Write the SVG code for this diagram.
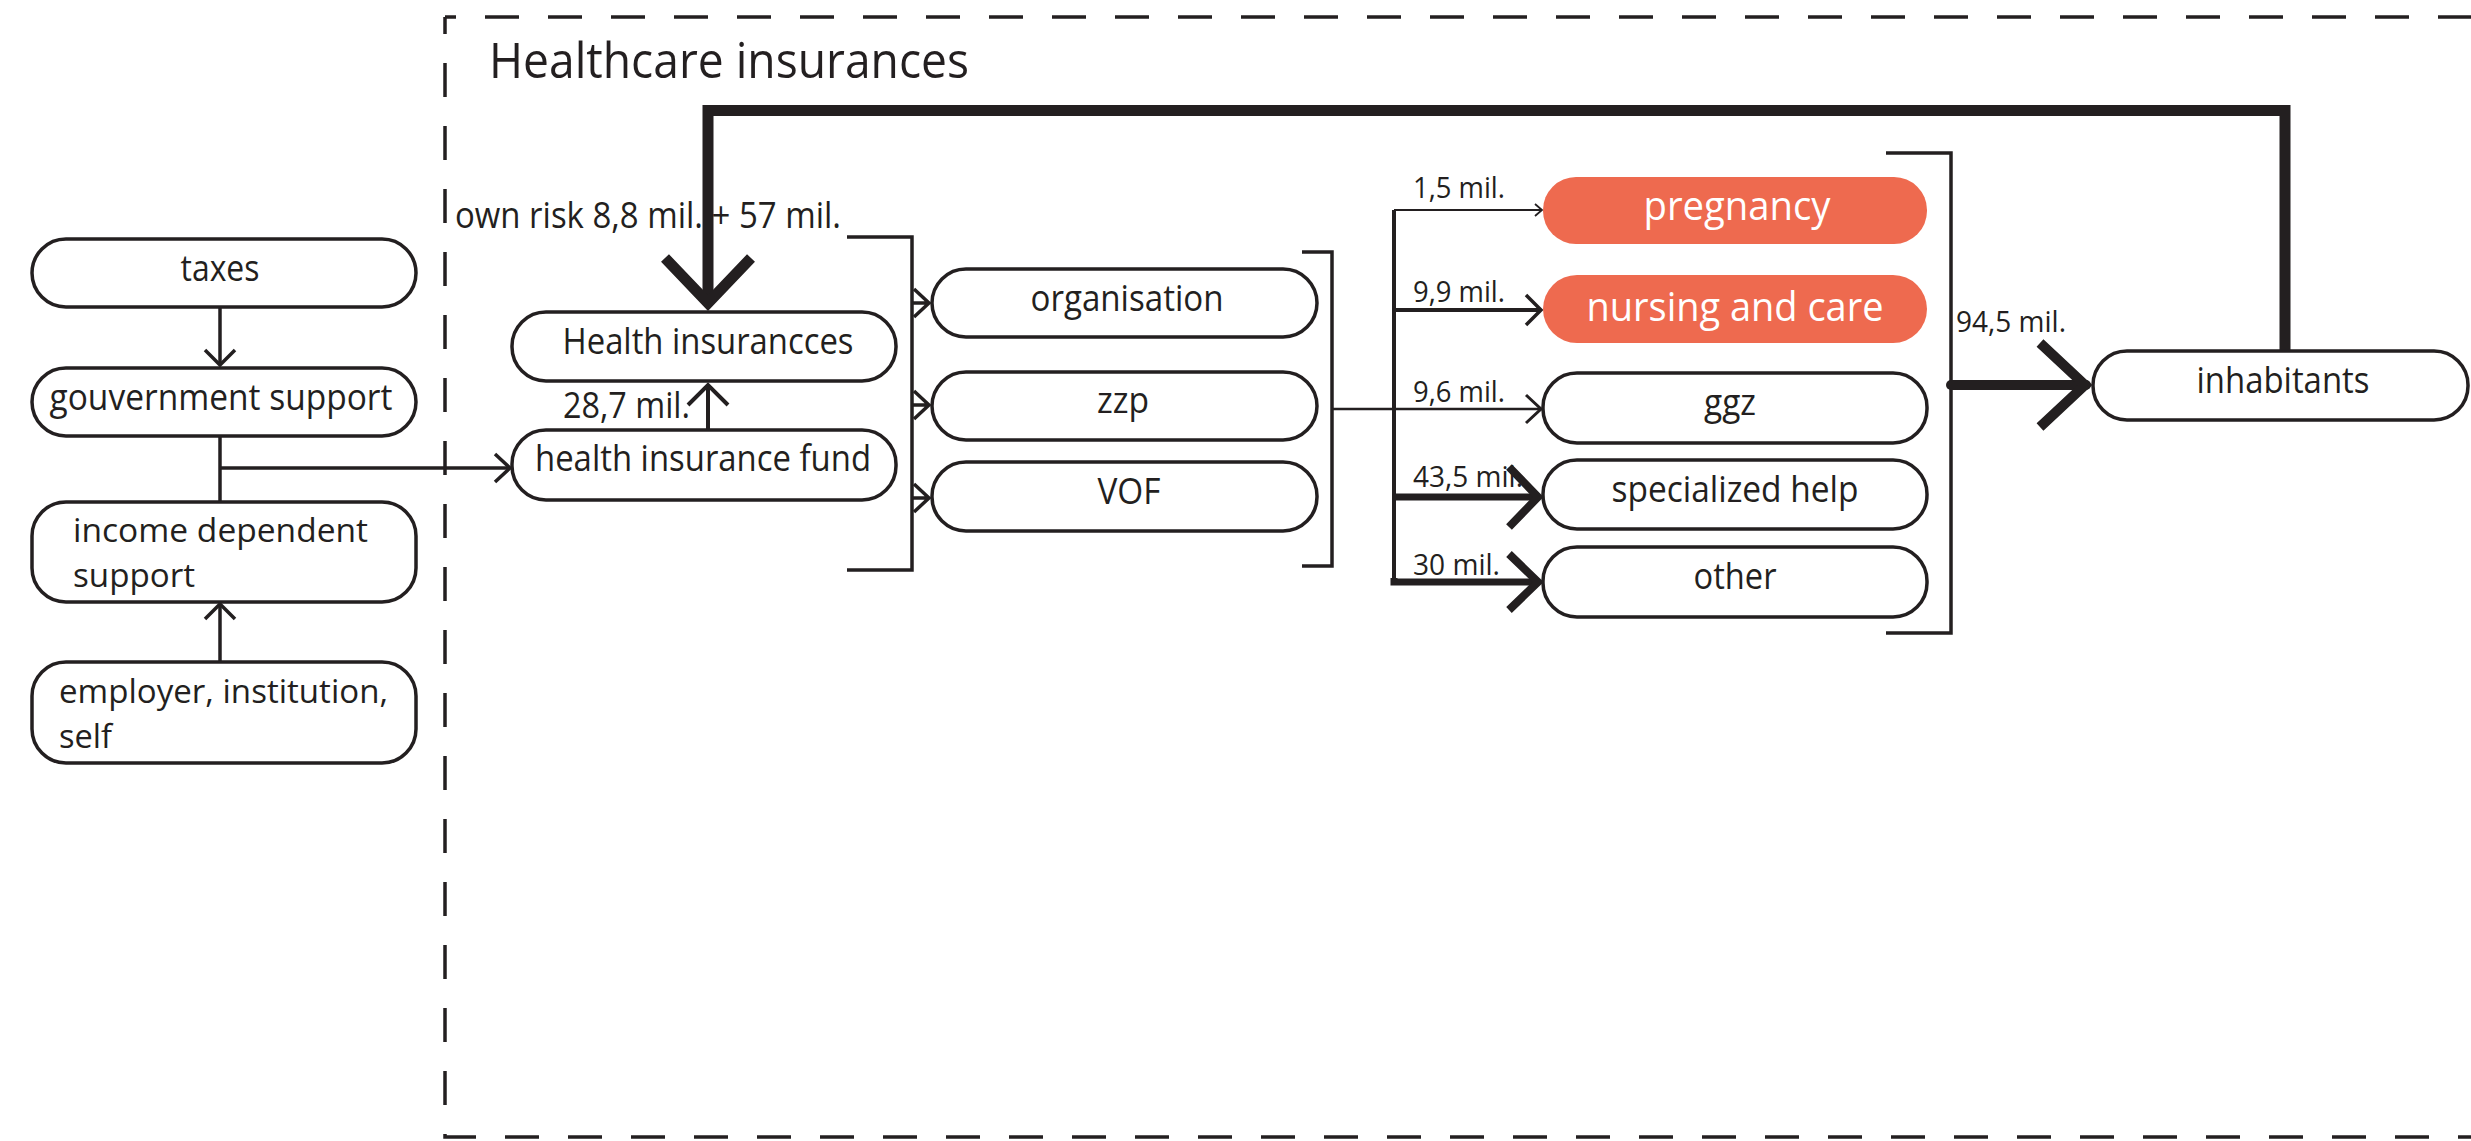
<svg xmlns="http://www.w3.org/2000/svg" width="2471" height="1141" viewBox="0 0 2471 1141">
  <style>
    .box { fill: #ffffff; stroke: #231f20; stroke-width: 3.5; }
    .hot { fill: #ee6a4f; stroke: none; }
    .t { font-family: "Open Sans", "Noto Sans", sans-serif; font-size: 36px; fill: #231f20; }
    .two { font-size: 32px; }
    .c { text-anchor: middle; }
    .w { fill: #ffffff; font-size: 41px; }
    .lbl { font-family: "Open Sans", "Noto Sans", sans-serif; font-size: 30px; fill: #231f20; }
    .ln { fill: none; stroke: #231f20; stroke-linejoin: miter; }
    .dash { fill: none; stroke: #231f20; stroke-width: 3.5; stroke-dasharray: 34 29; }
  </style>

  <!-- dashed frame of the insurance domain -->
  <g id="frame">
    <path class="dash" d="M 445 17 H 2475" stroke-dashoffset="23"/>
    <path class="dash" d="M 445 17 V 1137 H 2475" stroke-dashoffset="17"/>
    <text class="t" x="489" y="78" style="font-size:50px" textLength="480" lengthAdjust="spacingAndGlyphs">Healthcare insurances</text>
  </g>

  <!-- labels drawn beneath the connectors -->
  <g id="labels">
    <text class="t" x="455" y="228" textLength="386" lengthAdjust="spacingAndGlyphs">own risk 8,8 mil. + 57 mil.</text>
    <text class="t" x="563" y="418" textLength="127" lengthAdjust="spacingAndGlyphs">28,7 mil.</text>
    <text class="lbl" x="1413" y="198" textLength="92" lengthAdjust="spacingAndGlyphs">1,5 mil.</text>
    <text class="lbl" x="1413" y="302" textLength="92" lengthAdjust="spacingAndGlyphs">9,9 mil.</text>
    <text class="lbl" x="1413" y="402" textLength="92" lengthAdjust="spacingAndGlyphs">9,6 mil.</text>
    <text class="lbl" x="1413" y="487" textLength="110" lengthAdjust="spacingAndGlyphs">43,5 mil.</text>
    <text class="lbl" x="1413" y="575" textLength="87" lengthAdjust="spacingAndGlyphs">30 mil.</text>
    <text class="lbl" x="1956" y="332" textLength="110" lengthAdjust="spacingAndGlyphs">94,5 mil.</text>
  </g>

  <!-- connectors -->
  <g id="connectors">
    <!-- taxes -> government support -->
    <path class="ln" stroke-width="3.5" d="M 220 307 V 365"/>
    <path class="ln" stroke-width="3.5" d="M 205 350 L 220 365 L 235 350"/>
    <!-- employer -> income dependent support -->
    <path class="ln" stroke-width="3.5" d="M 220 662 V 604"/>
    <path class="ln" stroke-width="3.5" d="M 205 619 L 220 604 L 235 619"/>
    <!-- support -> health insurance fund -->
    <path class="ln" stroke-width="3.5" d="M 220 436 V 502"/>
    <path class="ln" stroke-width="3.5" d="M 220 468 H 510"/>
    <path class="ln" stroke-width="3.5" d="M 495 454 L 510 468 L 495 482"/>
    <!-- fund -> health insurances -->
    <path class="ln" stroke-width="4" d="M 708 430 V 385"/>
    <path class="ln" stroke-width="4" d="M 688 405 L 708 385 L 728 405"/>
    <!-- insurances bracket -> providers -->
    <path class="ln" stroke-width="3.5" d="M 847 237 H 912 V 570 H 847"/>
    <path class="ln" stroke-width="3.5" d="M 912 303 H 929 M 914 289 L 929 303 L 914 317"/>
    <path class="ln" stroke-width="3.5" d="M 912 405 H 929 M 914 391 L 929 405 L 914 419"/>
    <path class="ln" stroke-width="3.5" d="M 912 498 H 929 M 914 484 L 929 498 L 914 512"/>
    <!-- providers bracket -> care categories -->
    <path class="ln" stroke-width="3.5" d="M 1302 252 H 1332 V 566 H 1302"/>
    <path class="ln" stroke-width="2.5" d="M 1332 409 H 1540"/>
    <path class="ln" stroke-width="3" d="M 1526 395 L 1541 409 L 1526 423"/>
    <path class="ln" stroke-width="4" stroke-linejoin="round" d="M 1394 210 V 582"/>
    <path class="ln" stroke-width="2" d="M 1394 210 H 1541"/>
    <path class="ln" stroke-width="1.8" d="M 1535 204 L 1542 210 L 1535 216"/>
    <path class="ln" stroke-width="4" d="M 1394 310 H 1540"/>
    <path class="ln" stroke-width="3.5" d="M 1526 295 L 1541 310 L 1526 325"/>
    <path class="ln" stroke-width="7" d="M 1394 497 H 1538"/>
    <path class="ln" stroke-width="8" d="M 1509 467 L 1538 497 L 1509 527"/>
    <path class="ln" stroke-width="7" stroke-linejoin="round" d="M 1394 578 V 582 H 1538"/>
    <path class="ln" stroke-width="8" d="M 1509 554 L 1538 582 L 1509 610"/>
    <!-- categories bracket -> inhabitants -->
    <path class="ln" stroke-width="3.5" d="M 1886 153 H 1951 V 633 H 1886"/>
    <path class="ln" stroke-width="10" stroke-linecap="round" d="M 1951 385 H 2086"/>
    <path class="ln" stroke-width="10" d="M 2040 343 L 2085 385 L 2040 427"/>
    <!-- inhabitants -> health insurances (own risk and premium) -->
    <path class="ln" stroke-width="11" stroke-linejoin="round" stroke-linecap="round" d="M 2285 351 V 110.5 H 708 V 302"/>
    <path class="ln" stroke-width="11" d="M 665 258 L 708 303 L 751 258"/>
  </g>

  <!-- funding sources -->
  <g id="taxes">
    <rect class="box" x="32" y="239" width="384" height="68" rx="34"/>
    <text class="t c" x="220" y="281" textLength="79" lengthAdjust="spacingAndGlyphs">taxes</text>
  </g>
  <g id="government-support">
    <rect class="box" x="32" y="368" width="384" height="68" rx="34"/>
    <text class="t c" x="221" y="410" textLength="343" lengthAdjust="spacingAndGlyphs">gouvernment support</text>
  </g>
  <g id="income-dependent-support">
    <rect class="box" x="32" y="502" width="384" height="100" rx="34"/>
    <text class="t two" x="73" y="542" textLength="295" lengthAdjust="spacingAndGlyphs">income dependent</text>
    <text class="t two" x="73" y="587" textLength="122" lengthAdjust="spacingAndGlyphs">support</text>
  </g>
  <g id="employer">
    <rect class="box" x="32" y="662" width="384" height="101" rx="34"/>
    <text class="t two" x="59" y="703" textLength="329" lengthAdjust="spacingAndGlyphs">employer, institution,</text>
    <text class="t two" x="59" y="748" textLength="53" lengthAdjust="spacingAndGlyphs">self</text>
  </g>

  <!-- insurers -->
  <g id="health-insurances">
    <rect class="box" x="512" y="312" width="384" height="69" rx="34"/>
    <text class="t c" x="708" y="354" textLength="291" lengthAdjust="spacingAndGlyphs">Health insurancces</text>
  </g>
  <g id="health-insurance-fund">
    <rect class="box" x="512" y="430" width="384" height="70" rx="34"/>
    <text class="t c" x="703" y="471" textLength="336" lengthAdjust="spacingAndGlyphs">health insurance fund</text>
  </g>

  <!-- providers -->
  <g id="organisation">
    <rect class="box" x="932" y="269" width="385" height="68" rx="34"/>
    <text class="t c" x="1127" y="311" textLength="193" lengthAdjust="spacingAndGlyphs">organisation</text>
  </g>
  <g id="zzp">
    <rect class="box" x="932" y="372" width="385" height="68" rx="34"/>
    <text class="t c" x="1123" y="413" textLength="52" lengthAdjust="spacingAndGlyphs">zzp</text>
  </g>
  <g id="vof">
    <rect class="box" x="932" y="462" width="385" height="69" rx="34"/>
    <text class="t c" x="1129" y="504" textLength="63" lengthAdjust="spacingAndGlyphs">VOF</text>
  </g>

  <!-- care categories -->
  <g id="pregnancy">
    <rect class="hot" x="1543" y="177" width="384" height="67" rx="33"/>
    <text class="t c w" x="1737" y="220" textLength="187" lengthAdjust="spacingAndGlyphs">pregnancy</text>
  </g>
  <g id="nursing-and-care">
    <rect class="hot" x="1543" y="275" width="384" height="68" rx="34"/>
    <text class="t c w" x="1735" y="321" textLength="297" lengthAdjust="spacingAndGlyphs">nursing and care</text>
  </g>
  <g id="ggz">
    <rect class="box" x="1543" y="373" width="384" height="70" rx="34"/>
    <text class="t c" x="1730" y="415" textLength="52" lengthAdjust="spacingAndGlyphs">ggz</text>
  </g>
  <g id="specialized-help">
    <rect class="box" x="1543" y="460" width="384" height="69" rx="34"/>
    <text class="t c" x="1735" y="502" textLength="247" lengthAdjust="spacingAndGlyphs">specialized help</text>
  </g>
  <g id="other">
    <rect class="box" x="1543" y="547" width="384" height="70" rx="34"/>
    <text class="t c" x="1735" y="589" textLength="83" lengthAdjust="spacingAndGlyphs">other</text>
  </g>

  <!-- population -->
  <g id="inhabitants">
    <rect class="box" x="2093" y="351" width="375" height="69" rx="34"/>
    <text class="t c" x="2283" y="393" textLength="173" lengthAdjust="spacingAndGlyphs">inhabitants</text>
  </g>
</svg>
